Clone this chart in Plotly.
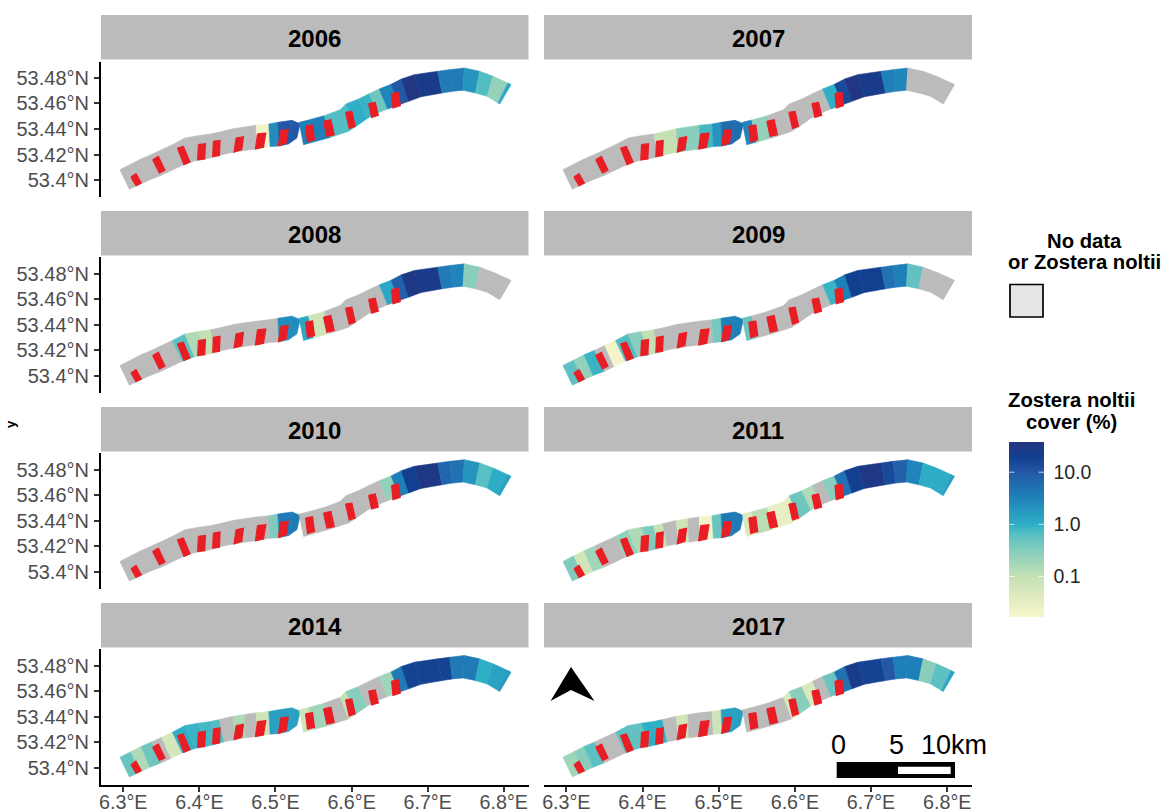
import numpy as np
import plotly.graph_objects as go
from plotly.colors import sample_colorscale

W, H = 1163, 812
FONT = "Liberation Sans"

YEARS = [2006, 2007, 2008, 2009, 2010, 2011, 2014, 2017]

# Western stretch of the transect: shore edges at the cell boundaries
WEST_TOP_LON = [6.2956, 6.3101, 6.3232, 6.3373, 6.3504, 6.3645, 6.3811, 6.3987, 6.4149, 6.4263, 6.4443, 6.4596, 6.4746, 6.4912, 6.5031, 6.5215, 6.5325]
WEST_TOP_LAT = [53.4081, 53.4125, 53.4165, 53.4201, 53.4238, 53.4277, 53.4329, 53.4348, 53.4361, 53.4376, 53.4402, 53.4416, 53.4429, 53.4439, 53.4452, 53.4468, 53.4442]
WEST_BOT_LON = [6.3079, 6.3219, 6.3351, 6.3500, 6.3627, 6.3776, 6.3934, 6.4096, 6.4206, 6.4325, 6.4469, 6.4610, 6.4754, 6.4930, 6.5048, 6.5171, 6.5281]
WEST_BOT_LAT = [53.3927, 53.3966, 53.4003, 53.4037, 53.4073, 53.4115, 53.4149, 53.4167, 53.4182, 53.4203, 53.4220, 53.4233, 53.4244, 53.4262, 53.4267, 53.4283, 53.4329]

# Eastern stretch
EAST_TOP_LON = [6.5311, 6.5434, 6.5640, 6.5851, 6.5925, 6.6092, 6.6232, 6.6364, 6.6518, 6.6654, 6.6825, 6.7132, 6.7289, 6.7482, 6.7684, 6.7860, 6.8053, 6.8096]
EAST_TOP_LAT = [53.4452, 53.4470, 53.4504, 53.4551, 53.4596, 53.4635, 53.4677, 53.4714, 53.4750, 53.4792, 53.4826, 53.4852, 53.4865, 53.4878, 53.4852, 53.4813, 53.4761, 53.4748]
EAST_BOT_LON = [6.5368, 6.5500, 6.5719, 6.5961, 6.6048, 6.6211, 6.6342, 6.6474, 6.6627, 6.6750, 6.6912, 6.7189, 6.7325, 6.7465, 6.7627, 6.7781, 6.7925, 6.7947]
EAST_BOT_LAT = [53.4277, 53.4298, 53.4334, 53.4382, 53.4416, 53.4484, 53.4525, 53.4557, 53.4591, 53.4617, 53.4653, 53.4682, 53.4695, 53.4703, 53.4682, 53.4656, 53.4604, 53.4596]

# Red sampling stations (quadrilaterals)
RED_LON = [
    [6.3101, 6.3167, 6.3237, 6.3167], [6.3386, 6.3461, 6.3548, 6.3474], [6.3711, 6.3789, 6.3877, 6.3798],
    [6.3987, 6.4079, 6.4070, 6.3978], [6.4184, 6.4272, 6.4263, 6.4175], [6.4482, 6.4579, 6.4557, 6.4456],
    [6.4763, 6.4873, 6.4842, 6.4737], [6.5070, 6.5167, 6.5140, 6.5039], [6.5395, 6.5487, 6.5513, 6.5421],
    [6.5632, 6.5728, 6.5772, 6.5675], [6.5921, 6.6004, 6.6048, 6.5969], [6.6224, 6.6311, 6.6351, 6.6263],
    [6.6526, 6.6618, 6.6640, 6.6544],
]
RED_LAT = [
    [53.4023, 53.4050, 53.3976, 53.3955], [53.4159, 53.4185, 53.4076, 53.4055], [53.4251, 53.4264, 53.4141, 53.4120],
    [53.4277, 53.4285, 53.4165, 53.4159], [53.4303, 53.4311, 53.4193, 53.4185], [53.4329, 53.4340, 53.4238, 53.4219],
    [53.4361, 53.4368, 53.4256, 53.4243], [53.4389, 53.4395, 53.4290, 53.4269], [53.4421, 53.4431, 53.4316, 53.4300],
    [53.4460, 53.4473, 53.4355, 53.4342], [53.4531, 53.4538, 53.4421, 53.4405], [53.4599, 53.4609, 53.4507, 53.4491],
    [53.4677, 53.4687, 53.4583, 53.4565],
]

N = None
# Zostera noltii cover (%) per cell, west to east; None = no data
WEST_2006 = [N, N, N, N, N, N, N, N, N, N, N, N, 0.02, 2.5, 10, 10]
EAST_2006 = [3.5, 3.5, 0.7, 0.7, 1.0, 0.9, 0.45, 3, 10, 35, 25, 4, 4, 2, 0.7, 0.25, 1.2]
WEST_2007 = [N, N, N, N, N, N, N, N, 0.1, 0.1, 0.3, 0.3, 0.8, 2, 6, 6]
EAST_2007 = [3, 0.25, N, N, N, N, N, 1, 15, 35, 25, 3.5, 3, N, N, N, N]
WEST_2008 = [N, N, N, N, N, 0.6, 0.15, 0.1, N, N, N, N, N, N, 2.5, 2.5]
EAST_2008 = [1.2, 0.08, N, N, N, N, N, 1.2, 8, 30, 25, 4, 3, 0.3, N, N, N]
WEST_2009 = [0.6, 0.25, 0.9, N, 0.02, 0.7, 0.3, 0.1, N, N, N, N, N, 0.4, 3.5, 3.5]
EAST_2009 = [0.5, N, N, N, N, N, N, 0.9, 3.5, 20, 20, 5, 3.5, 0.55, N, N, N]
WEST_2010 = [N, N, N, N, N, N, N, N, N, N, N, N, N, 0.35, 4, 4]
EAST_2010 = [N, N, N, N, N, N, N, 0.25, 3.5, 20, 30, 7, 5, 2, 0.65, 1.1, 1.5]
WEST_2011 = [0.35, 0.07, 0.2, N, N, 0.25, 0.15, 0.35, 0.09, N, 0.07, N, 0.02, 0.5, 4, 4]
EAST_2011 = [0.05, 0.12, 0.03, 0.03, 0.45, 0.15, N, 0.3, 5, 20, 30, 15, 8, 3, 1.1, 1.1, 1.5]
WEST_2014 = [0.5, 0.15, 0.45, N, 0.06, 1.0, 0.9, 0.8, 0.7, N, 0.15, N, 0.07, 1.5, 1.5, 1.5]
EAST_2014 = [0.07, 0.2, N, 0.1, 0.3, N, N, 0.2, 4, 18, 18, 18, 4, 4, 1, 1.4, 1.8]
WEST_2017 = [0.2, 0.3, 0.6, N, N, 0.6, 0.55, 1, 1, N, 0.07, N, N, 0.07, 1.5, 1.5]
EAST_2017 = [N, N, N, 0.05, 0.3, 0.05, N, 0.5, 5, 25, 18, 10, 3.5, 3.5, 0.3, 0.6, 1.3]

WEST = dict(zip(YEARS, [WEST_2006, WEST_2007, WEST_2008, WEST_2009, WEST_2010, WEST_2011, WEST_2014, WEST_2017]))
EAST = dict(zip(YEARS, [EAST_2006, EAST_2007, EAST_2008, EAST_2009, EAST_2010, EAST_2011, EAST_2014, EAST_2017]))

LON_TICKS = [6.3, 6.4, 6.5, 6.6, 6.7, 6.8]
LON_LABELS = ["6.3°E", "6.4°E", "6.5°E", "6.6°E", "6.7°E", "6.8°E"]
LAT_TICKS = [53.40, 53.42, 53.44, 53.46, 53.48]
LAT_LABELS = ["53.4°N", "53.42°N", "53.44°N", "53.46°N", "53.48°N"]

COVER_TICKS = [0.1, 1.0, 10.0]
COVER_LABELS = ["0.1", "1.0", "10.0"]
COVER_MIN, COVER_MAX = 10 ** -1.77, 10 ** 1.585

GRAY = "#BBBBBB"
RED = "#E91E25"
SCALE = [
    [0.0, "#F8F6CB"], [0.23, "#C5E1B4"], [0.378, "#86CDBC"], [0.478, "#55BEC3"],
    [0.528, "#2FAFC6"], [0.677, "#1F83BA"], [0.826, "#2358A6"], [0.915, "#123F90"], [1.0, "#253480"],
]
LMIN, LMAX = np.log10(COVER_MIN), np.log10(COVER_MAX)


def colour(v):
    if v is None:
        return GRAY
    return sample_colorscale(SCALE, [(np.log10(v) - LMIN) / (LMAX - LMIN)], colortype="rgb")[0]


def xp(px):
    return px / W


def yp(py):
    return 1 - py / H


fig = go.Figure()
layout = dict(
    width=W, height=H, autosize=False, margin=dict(l=0, r=0, t=0, b=0, autoexpand=False),
    paper_bgcolor="white", plot_bgcolor="white",
    font=dict(family=FONT, color="#000000"), showlegend=False,
)
shapes, annos = [], []

COL_X = [(101, 528.5), (544, 972)]
ROW_STEP = 195.85
LON_RANGE = [6.2707, 6.8325]
LAT_RANGE = [53.3867, 53.4929]

for i, year in enumerate(YEARS):
    col, row = i % 2, i // 2
    n = i + 1
    xa, ya = f"x{n}", f"y{n}"
    x0, x1 = COL_X[col]
    top, bot = 61.5 + row * ROW_STEP, 197.0 + row * ROW_STEP
    layout[f"xaxis{n}"] = dict(
        domain=[xp(x0), xp(x1)], range=LON_RANGE, anchor=ya, fixedrange=True, showgrid=False, zeroline=False,
        tickvals=LON_TICKS, ticktext=LON_LABELS, tickfont=dict(size=19.7, color="#4D4D4D", family=FONT),
        showline=row == 3, linecolor="#000000", linewidth=2,
        ticks="outside" if row == 3 else "", ticklen=5, tickwidth=1.8, tickcolor="#333333",
        showticklabels=row == 3, tickangle=0, ticklabelstandoff=-6,
    )
    layout[f"yaxis{n}"] = dict(
        domain=[yp(bot), yp(top)], range=LAT_RANGE, anchor=xa, fixedrange=True, showgrid=False, zeroline=False,
        tickvals=LAT_TICKS, ticktext=LAT_LABELS, tickfont=dict(size=20, color="#4D4D4D", family=FONT),
        showline=col == 0, linecolor="#000000", linewidth=2,
        ticks="outside" if col == 0 else "", ticklen=5, tickwidth=1.8, tickcolor="#333333",
        showticklabels=col == 0, ticklabelstandoff=1,
    )
    # facet strip
    s_top, s_bot = 15 + row * 196, 59.5 + row * 196
    shapes.append(dict(type="rect", xref="paper", yref="paper", x0=xp(x0), x1=xp(x1), y0=yp(s_bot), y1=yp(s_top),
                       fillcolor="#BBBBBB", line=dict(width=0), layer="below"))
    annos.append(dict(text=f"<b>{year}</b>", xref="paper", yref="paper", x=xp((x0 + x1) / 2), y=yp((s_top + s_bot) / 2 + 0.8),
                      xanchor="center", yanchor="middle", showarrow=False, font=dict(size=24, color="#000000", family=FONT)))

    for (tlon, tlat, blon, blat, vals) in (
        (WEST_TOP_LON, WEST_TOP_LAT, WEST_BOT_LON, WEST_BOT_LAT, WEST[year]),
        (EAST_TOP_LON, EAST_TOP_LAT, EAST_BOT_LON, EAST_BOT_LAT, EAST[year]),
    ):
        for k, v in enumerate(vals):
            c = colour(v)
            fig.add_trace(go.Scatter(
                x=[tlon[k], tlon[k + 1], blon[k + 1], blon[k], tlon[k]],
                y=[tlat[k], tlat[k + 1], blat[k + 1], blat[k], tlat[k]],
                xaxis=xa, yaxis=ya, mode="lines", fill="toself", fillcolor=c,
                line=dict(color=c, width=0.6), hoverinfo="skip",
            ))
    rx, ry = [], []
    for qx, qy in zip(RED_LON, RED_LAT):
        rx += qx + [qx[0], None]
        ry += qy + [qy[0], None]
    fig.add_trace(go.Scatter(x=rx, y=ry, xaxis=xa, yaxis=ya, mode="lines", fill="toself", fillcolor=RED,
                             line=dict(color=RED, width=1.2), hoverinfo="skip"))

# colour legend (native colorbar)
fig.add_trace(go.Scatter(
    x=[6.5], y=[53.44], xaxis="x1", yaxis="y1", mode="markers", hoverinfo="skip",
    marker=dict(
        size=1, opacity=0, color=[0], colorscale=SCALE, cmin=LMIN, cmax=LMAX,
        colorbar=dict(
            thicknessmode="pixels", thickness=35, lenmode="pixels", len=175,
            x=xp(1009), xanchor="left", xpad=0, y=yp(616.7), yanchor="bottom", ypad=0,
            outlinewidth=0, tickvals=[float(np.log10(t)) for t in COVER_TICKS], ticktext=COVER_LABELS,
            ticks="outside", ticklen=6, tickcolor="rgba(0,0,0,0)", tickwidth=1,
            tickfont=dict(size=19.5, color="#262626", family=FONT),
        ),
    ),
))
bar_top, bar_bot = 441.7, 616.7
for t in COVER_TICKS:
    py = bar_bot - (np.log10(t) - LMIN) / (LMAX - LMIN) * (bar_bot - bar_top)
    for start, dx in ((1009, 7), (1044, -7)):
        annos.append(dict(text="", xref="paper", yref="paper", x=xp(start), y=yp(py), axref="pixel", ayref="pixel",
                          ax=dx, ay=0, showarrow=True, arrowhead=0, arrowwidth=1, arrowcolor="rgba(255,255,255,0.7)",
                          standoff=0, startstandoff=0))


def txt(s, x, y, size, bold=False, color="#000000", anchor="center"):
    annos.append(dict(text=f"<b>{s}</b>" if bold else s, xref="paper", yref="paper", x=xp(x), y=yp(y),
                      xanchor=anchor, yanchor="middle", showarrow=False, font=dict(size=size, color=color, family=FONT)))


txt("No data", 1084, 241, 20.3, True)
txt("or Zostera noltii", 1084, 262, 20.3, True)
txt("Zostera noltii", 1071, 400, 20.3, True)
txt("cover (%)", 1071, 422, 20.3, True)
txt("0", 838, 745, 27)
txt("5", 896, 745, 27)
txt("10km", 954, 745, 27)

annos.append(dict(text="<b>y</b>", xref="paper", yref="paper", x=xp(10), y=yp(424), xanchor="center", yanchor="middle",
                  showarrow=False, textangle=-90, font=dict(size=13, color="#000000", family=FONT)))

# no-data key
shapes.append(dict(type="rect", xref="paper", yref="paper", x0=xp(1010), x1=xp(1043), y0=yp(317), y1=yp(284.5),
                   fillcolor="#E5E5E5", line=dict(color="#000000", width=1.7)))
# scale bar
shapes.append(dict(type="rect", xref="paper", yref="paper", x0=xp(836.7), x1=xp(955), y0=yp(778), y1=yp(762),
                   fillcolor="#000000", line=dict(width=0), layer="above"))
shapes.append(dict(type="rect", xref="paper", yref="paper", x0=xp(898), x1=xp(950.7), y0=yp(774), y1=yp(766.7),
                   fillcolor="#FFFFFF", line=dict(width=0), layer="above"))
# north arrow
shapes.append(dict(type="path", xref="paper", yref="paper",
                   path=f"M {xp(571)} {yp(667)} L {xp(594.5)} {yp(701)} L {xp(571)} {yp(690)} L {xp(550.5)} {yp(701)} Z",
                   fillcolor="#000000", line=dict(width=0), layer="above"))

layout["shapes"] = shapes
layout["annotations"] = annos
fig.update_layout(**layout)
fig.write_html("out.html", config=dict(displayModeBar=False),
               post_script="document.body.style.margin='0';document.body.style.overflow='hidden';")
